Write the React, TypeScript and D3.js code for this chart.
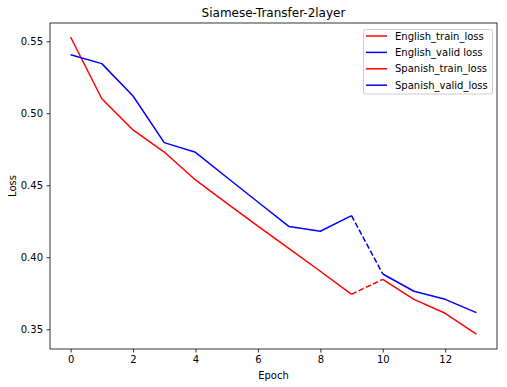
import { useEffect, useRef } from 'react';
import * as d3 from 'd3';

// epochs and losses
const EPOCHS_EN = [0, 1, 2, 3, 4, 5, 6, 7, 8, 9];
const EPOCHS_ES = [10, 11, 12, 13];
const EN_TRAIN = [0.553, 0.5101, 0.4884, 0.4731, 0.4537, 0.4376, 0.4216, 0.406, 0.3903, 0.3743];
const EN_VALID = [0.5407, 0.5345, 0.512, 0.4796, 0.4729, 0.4556, 0.4384, 0.4213, 0.4181, 0.4289];
const ES_TRAIN = [0.3847, 0.3708, 0.3611, 0.3467];
const ES_VALID = [0.3884, 0.3764, 0.3708, 0.3616];
const X_TICKS = [0, 2, 4, 6, 8, 10, 12];
const Y_TICKS = [0.35, 0.40, 0.45, 0.50, 0.55];
const LEGEND = [
  { label: 'English_train_loss', color: '#ff0000' },
  { label: 'English_valid loss', color: '#0000ff' },
  { label: 'Spanish_train_loss', color: '#ff0000' },
  { label: 'Spanish_valid_loss', color: '#0000ff' },
];

const RED = '#ff0000';
const BLUE = '#0000ff';
const FONT = '"DejaVu Sans", sans-serif';

export default function App() {
  const ref = useRef<SVGSVGElement>(null);

  useEffect(() => {
    if (!ref.current) return;
    const svg = d3.select(ref.current);
    svg.selectAll('*').remove();

    const width = 507;
    const height = 387;
    const left = 50, right = 497, top = 23, bottom = 349;

    const x = d3.scaleLinear().domain([-0.66, 13.66]).range([left, right]);
    const y = d3.scaleLinear().domain([0.3363, 0.5627]).range([bottom, top]);

    svg.append('rect').attr('width', width).attr('height', height).attr('fill', 'white');

    const line = d3.line<[number, number]>()
      .x(d => x(d[0]))
      .y(d => y(d[1]));

    const series = [
      { xs: EPOCHS_EN, ys: EN_TRAIN, color: RED },
      { xs: EPOCHS_EN, ys: EN_VALID, color: BLUE },
      { xs: EPOCHS_ES, ys: ES_TRAIN, color: RED },
      { xs: EPOCHS_ES, ys: ES_VALID, color: BLUE },
    ];

    const g = svg.append('g');

    // dashed bridges between the two runs
    const bridges = [
      { a: [9, EN_TRAIN[9]], b: [10, ES_TRAIN[0]], color: RED },
      { a: [9, EN_VALID[9]], b: [10, ES_VALID[0]], color: BLUE },
    ];
    bridges.forEach(br => {
      g.append('path')
        .attr('d', line([br.a as [number, number], br.b as [number, number]]))
        .attr('fill', 'none')
        .attr('stroke', br.color)
        .attr('stroke-width', 1.5)
        .attr('stroke-dasharray', '5.55,2.4');
    });

    series.forEach(s => {
      g.append('path')
        .attr('d', line(s.xs.map((v, i) => [v, s.ys[i]] as [number, number])))
        .attr('fill', 'none')
        .attr('stroke', s.color)
        .attr('stroke-width', 1.5)
        .attr('stroke-linejoin', 'round');
    });

    // frame
    svg.append('rect')
      .attr('x', left).attr('y', top)
      .attr('width', right - left).attr('height', bottom - top)
      .attr('fill', 'none').attr('stroke', 'black').attr('stroke-width', 0.8);

    const xAxis = svg.append('g')
      .attr('transform', `translate(0,${bottom})`)
      .call(d3.axisBottom(x).tickValues(X_TICKS).tickSize(3.5).tickPadding(3.5).tickFormat(d3.format('d')));
    const yAxis = svg.append('g')
      .attr('transform', `translate(${left},0)`)
      .call(d3.axisLeft(y).tickValues(Y_TICKS).tickSize(3.5).tickPadding(3.5).tickFormat(d3.format('.2f')));
    [xAxis, yAxis].forEach(a => {
      a.select('.domain').remove();
      a.selectAll('line').attr('stroke', 'black').attr('stroke-width', 0.8);
      a.selectAll('text').attr('font-family', FONT).attr('font-size', 10).attr('fill', 'black');
    });

    svg.append('text')
      .attr('x', (left + right) / 2).attr('y', 17)
      .attr('text-anchor', 'middle')
      .attr('font-family', FONT).attr('font-size', 12)
      .text('Siamese-Transfer-2layer');

    svg.append('text')
      .attr('x', (left + right) / 2).attr('y', 379)
      .attr('text-anchor', 'middle')
      .attr('font-family', FONT).attr('font-size', 10)
      .text('Epoch');

    svg.append('text')
      .attr('transform', `translate(16,${(top + bottom) / 2}) rotate(-90)`)
      .attr('text-anchor', 'middle')
      .attr('font-family', FONT).attr('font-size', 10)
      .text('Loss');

    // legend
    const lg = svg.append('g');
    lg.append('rect')
      .attr('x', 363.5).attr('y', 29.5)
      .attr('width', 129).attr('height', 64.5)
      .attr('rx', 2)
      .attr('fill', 'white').attr('fill-opacity', 0.8)
      .attr('stroke', '#cccccc').attr('stroke-width', 1);
    LEGEND.forEach((item, i) => {
      const yy = 36 + i * 16.4;
      lg.append('line')
        .attr('x1', 366).attr('x2', 387)
        .attr('y1', yy).attr('y2', yy)
        .attr('stroke', item.color).attr('stroke-width', 1.5);
      lg.append('text')
        .attr('x', 395).attr('y', yy)
        .attr('dy', '0.35em')
        .attr('font-family', FONT).attr('font-size', 10)
        .text(item.label);
    });
  }, []);

  return (
    <svg
      ref={ref}
      width={507}
      height={387}
      style={{ position: 'absolute', left: 0, top: 0, display: 'block' }}
    />
  );
}
